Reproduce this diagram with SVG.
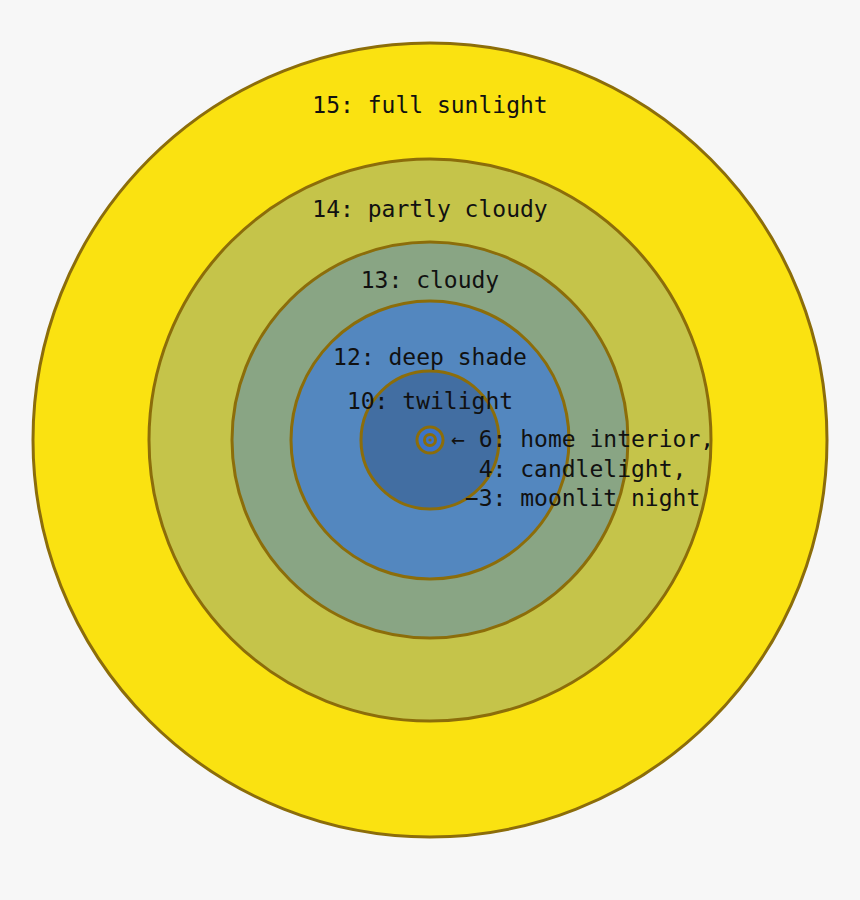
<svg xmlns="http://www.w3.org/2000/svg" width="860" height="900" viewBox="0 0 860 900">
<style>
.r{stroke:#8C6D0A;stroke-width:3}
.t{font-family:"DejaVu Sans Mono","Liberation Mono",monospace;font-size:23px;fill:#111;text-anchor:middle}
.l{font-family:"DejaVu Sans Mono","Liberation Mono",monospace;font-size:23px;fill:#111;white-space:pre}
</style>
<rect width="860" height="900" fill="#F7F7F7"/>
<g id="ev15"><circle class="r" cx="430" cy="440" r="397" fill="#FAE211"/></g>
<g id="ev14"><circle class="r" cx="430" cy="440" r="281" fill="#C5C44A"/></g>
<g id="ev13"><circle class="r" cx="430" cy="440" r="198" fill="#89A584"/></g>
<g id="ev12"><circle class="r" cx="430" cy="440" r="139" fill="#5387BF"/></g>
<g id="ev10"><circle class="r" cx="430" cy="440" r="69" fill="#426EA2"/></g>
<g id="ev6"><circle cx="430" cy="440" r="13" fill="#3B73C9" stroke="#8C6D0A" stroke-width="3"/></g>
<g id="ev4"><circle cx="430" cy="440" r="5.5" fill="#3B73C9" stroke="#8C6D0A" stroke-width="3"/></g>
<g id="evm3"><circle cx="430" cy="440" r="1.6" fill="#8C6D0A"/></g>
<g id="labels">
<text class="t" x="430" y="113">15: full sunlight</text>
<text class="t" x="430" y="217">14: partly cloudy</text>
<text class="t" x="430" y="288">13: cloudy</text>
<text class="t" x="430" y="365">12: deep shade</text>
<text class="t" x="430" y="409">10: twilight</text>
<text class="l" x="451" y="447">← 6: home interior,</text>
<text class="l" x="451" y="477">  4: candlelight,</text>
<text class="l" x="451" y="506"> −3: moonlit night</text>
</g>
</svg>
